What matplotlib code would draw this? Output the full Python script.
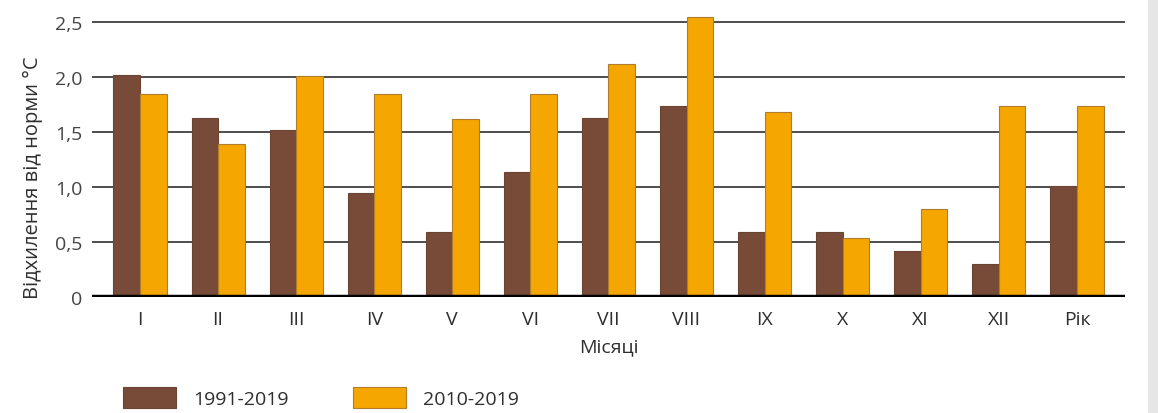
import matplotlib
matplotlib.use("Agg")
import matplotlib.pyplot as plt
from matplotlib.patches import Rectangle
import numpy as np

plt.rcParams['font.family'] = ['Open Sans', 'DejaVu Sans']

months = ["I", "II", "III", "IV", "V", "VI", "VII", "VIII", "IX", "X", "XI", "XII", "Рік"]
period_long = "1991-2019"
period_recent = "2010-2019"
dev_long = [2.02, 1.63, 1.52, 0.95, 0.59, 1.14, 1.63, 1.74, 0.59, 0.59, 0.42, 0.30, 1.01]
dev_recent = [1.85, 1.39, 2.01, 1.85, 1.62, 1.85, 2.12, 2.55, 1.68, 0.54, 0.80, 1.74, 1.74]
y_ticks = [0, 0.5, 1.0, 1.5, 2.0, 2.5]
y_tick_labels = ["0", "0,5", "1,0", "1,5", "2,0", "2,5"]

c_brown = "#774B37"
c_orange = "#F5A600"
txt = "#2e2e2e"

fig = plt.figure(figsize=(11.58, 4.14), dpi=100)
ax = fig.add_axes([0.0794, 0.280, 0.8921, 0.691])

x = np.arange(len(months))
w = 0.34
ax.bar(x - w / 2, dev_long, w, color=c_brown, edgecolor="#6a4533", linewidth=0.8,
       zorder=3, label=period_long)
ax.bar(x + w / 2, dev_recent, w, color=c_orange, edgecolor="#b07e2a", linewidth=0.8,
       zorder=3, label=period_recent)

ax.set_xlim(-0.615, len(months) - 1 + 0.615)
ax.set_ylim(0, 2.6)
ax.set_yticks(y_ticks)
ax.set_yticklabels(y_tick_labels)
ax.set_xticks(x)
ax.set_xticklabels(months)
ax.tick_params(axis="both", length=0, labelsize=14, colors=txt)
ax.tick_params(axis="y", pad=7, labelcolor="#444444")
ax.tick_params(axis="x", pad=9)

for v in y_ticks[1:]:
    ax.axhline(v, color="#4d4d4d", linewidth=1.4, zorder=1)
ax.axhline(0, color="black", linewidth=3.2, zorder=4)

for s in ax.spines.values():
    s.set_visible(False)

ax.set_xlabel("Місяці", fontsize=14, color=txt, labelpad=7)
ax.set_ylabel("Відхилення від норми °C", fontsize=14.5, color=txt)
ax.yaxis.set_label_coords(-0.047, 0.42)

# legend below the chart
handles, labels = ax.get_legend_handles_labels()
fig.legend(handles, labels, loc="lower left", bbox_to_anchor=(0.091, -0.03), ncol=2,
           frameon=False, fontsize=14, handlelength=2.75, handleheight=1.25,
           columnspacing=3.3, handletextpad=0.85, labelcolor=txt)

# light strip on the right edge
fig.patches.append(Rectangle((0.9915, 0), 0.0085, 1, transform=fig.transFigure,
                             facecolor="#e6e6e6", edgecolor="none"))

fig.savefig("out.png", dpi=100)
